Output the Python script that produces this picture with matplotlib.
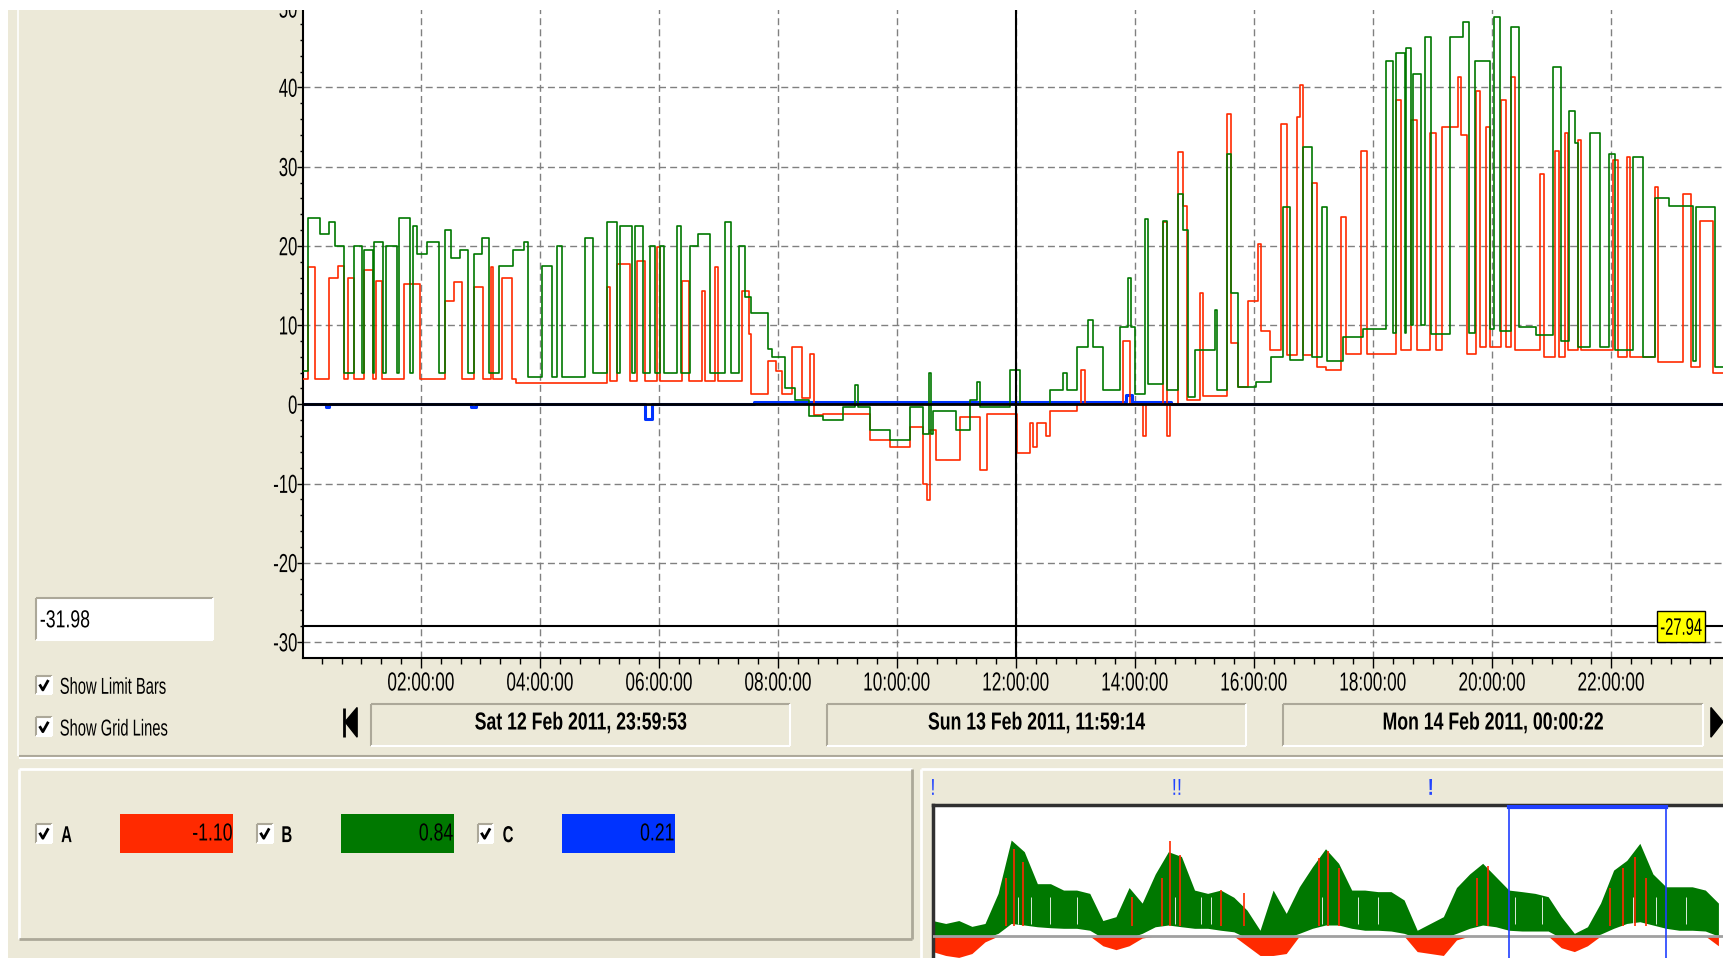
import numpy as np
import matplotlib
matplotlib.use("Agg")
import matplotlib.pyplot as plt
from matplotlib.patches import Rectangle, Polygon, PathPatch
from matplotlib.lines import Line2D
from matplotlib.textpath import TextPath
from matplotlib.font_manager import FontProperties
from matplotlib.transforms import Affine2D, IdentityTransform

# ---- main chart data (hours from Sat 12 Feb 2011 23:59:53), step values ----
a_t = [0.00, 0.11, 0.22, 0.45, 0.60, 0.70, 0.78, 0.87, 1.04, 1.20, 1.24, 1.34, 1.71, 1.99,
       2.41, 2.55, 2.69, 2.89, 3.05, 3.17, 3.22, 3.36, 3.53, 3.59, 5.13, 5.18, 5.29, 5.52,
       5.63, 5.77, 5.97, 6.02, 6.39, 6.50, 6.72, 6.78, 6.95, 7.00, 7.39, 7.51, 7.54, 7.84,
       7.96, 8.07, 8.24, 8.40, 8.54, 8.60,
       8.76, 9.54, 9.88, 10.22, 10.44, 10.50, 10.55, 10.66, 11.06, 11.39, 11.51, 12.01,
       12.23, 12.29, 12.35, 12.51, 12.57, 13.02, 13.10, 13.16, 13.80, 13.91, 14.14, 14.19,
       14.47, 14.53, 14.59, 14.73, 14.81, 14.87, 15.09, 15.15, 15.54, 15.62, 15.73, 15.90,
       16.07, 16.11, 16.27, 16.46, 16.55, 16.72, 16.78, 16.83, 16.97, 17.05, 17.21,
       17.46, 17.55, 17.80, 17.89, 18.39, 18.47, 18.64, 18.73, 18.95, 19.06, 19.15, 19.43,
       19.48, 19.57, 19.73, 19.79, 19.90, 19.96, 20.15, 20.24, 20.32, 20.38, 20.80, 20.88,
       21.05, 21.13, 21.22, 21.27, 21.44, 21.50, 22.03, 22.11, 22.26, 22.31, 22.73, 22.79,
       23.21, 23.35, 23.49, 23.71, 23.90]
a_v = [3.2, 17.3, 3.2, 16, 17.5, 3.2, 16, 3.2, 17, 3.2, 15.6, 3.2, 15.2, 3.2,
       13, 15.5, 3.2, 14.8, 3.2, 17.3, 3.2, 16, 3.2, 2.7, 14.8, 3, 17.7, 3,
       18.1, 3, 19.8, 3, 15.6, 3, 14.3, 3, 17.3, 3, 14.3, 8.9, 1.3, 5.5,
       4.2, 1.3, 7.2, 0.8, 6.3, -1.3,
       -1.2, -4.5, -5.4, -2.9, -10, -12.1, -3.3, -7, -1.6, -8.3, -1.2, -6.2,
       -2.4, -5.4, -2.4, -4, -0.8, 0, 4.3, 0, 8, 0, -4, 0,
       23, -4, 0, 31.9, 25, 0.5, 14, 1, 36.7, 7.7, 2.2, 13,
       20.3, 9.3, 6.8, 35.4, 6.2, 36.3, 40.3, 6.2, 28, 4.7, 4.3,
       23.7, 6.4, 32, 6.4, 38.4, 6.8, 35.9, 6.8, 34.2, 6.8, 35, 41.3,
       34, 6.4, 39.6, 7.2, 35, 7.2, 38.4, 7.2, 41.3, 6.8, 29.1, 6,
       32, 6, 34.2, 6.8, 33.4, 6.8, 30.8, 6, 31.2, 6, 27.4, 5.3,
       26.6, 4.7, 23.2, 3.9, 3.9]

b_t = [0.00, 0.11, 0.30, 0.45, 0.56, 0.70, 0.87, 1.01, 1.05, 1.19, 1.22, 1.37, 1.41, 1.60,
       1.64, 1.82, 1.86, 1.93, 2.10, 2.30, 2.41, 2.50, 2.65, 2.80, 2.89, 3.02, 3.14, 3.31,
       3.55, 3.73, 3.80, 4.03, 4.20, 4.29, 4.37, 4.76, 4.89, 5.13, 5.29, 5.35, 5.55, 5.60,
       5.74, 5.85, 5.94, 6.01, 6.08, 6.30, 6.37, 6.53, 6.65, 6.86, 7.11, 7.21, 7.34, 7.45,
       7.54, 7.84, 7.90, 8.12, 8.29, 8.52,
       8.76, 9.10, 9.30, 9.34, 9.54, 9.88, 10.22, 10.44, 10.54, 10.58, 10.61, 11.00, 11.23,
       11.34, 11.39, 11.90, 12.07, 12.57, 12.79, 12.85, 13.02, 13.21, 13.30, 13.47, 13.75,
       13.89, 13.94, 14.00, 14.17, 14.21, 14.47, 14.53, 14.73, 14.81, 14.89, 15.01, 15.34,
       15.37, 15.54, 15.62, 15.73, 16.04, 16.29, 16.49, 16.60, 16.83, 16.97, 17.14, 17.22,
       17.49, 17.83, 18.22, 18.33, 18.39, 18.53, 18.56, 18.64, 18.67, 18.81, 18.87, 18.98,
       19.29, 19.51, 19.62, 19.71, 19.96, 20.04, 20.13, 20.32, 20.46, 20.74, 21.02, 21.16,
       21.30, 21.39, 21.44, 21.64, 21.81, 21.97, 22.06, 22.37, 22.54, 22.73, 22.98, 23.38,
       23.43, 23.74, 23.90]
b_v = [4.2, 23.5, 21.5, 23, 20, 4, 20, 4, 19.5, 4, 20.5, 4, 20, 4,
       23.5, 4, 22.5, 19, 20.5, 4, 22, 18.5, 19.5, 4, 19, 21, 4, 17.5,
       19.5, 20.5, 3.4, 17.5, 3.4, 20, 3.4, 21, 4, 23, 4, 22.5, 4, 22.5,
       4, 20, 4, 20, 4, 22.5, 4, 20, 21.5, 4, 23, 4, 20, 13.5,
       11.5, 7, 6, 2, 0.5, -1.5,
       -2, -0.3, 2.5, -0.3, -3.3, -4.5, -0.3, -3.7, 4, -3.7, -0.8, -3.3, 0.5,
       2.8, -0.3, 4.3, 0, 1.8, 4, 1.8, 7.2, 10.6, 7.2, 1.8, 9.8,
       16, 9.8, 1.3, 23.4, 2.6, 23.2, 1.8, 26.6, 22, 0.9, 6.8, 11.9,
       1.8, 31.6, 14, 2.2, 2.8, 6, 24.9, 5.6, 32.5, 6, 24.9, 5.5,
       8.5, 9.5, 43.4, 9, 44.3, 9, 45, 10, 41.7, 10, 46.4, 8.9,
       46.4, 48.3, 9, 43.4, 9.5, 48.9, 9.3, 47.6, 9.8, 8.8, 42.6, 8,
       37, 33, 7.2, 34.2, 7.2, 31.6, 6.8, 31.2, 6, 26, 25, 5.5,
       24.9, 4.7, 4.7]

c_t = [0.00, 0.40, 0.45, 2.85, 2.92, 5.77, 5.88, 7.60, 13.85, 13.95, 14.60, 23.90]
c_v = [0.0, -0.4, 0.0, -0.4, 0.0, -1.9, 0.0, 0.35, 1.2, 0.35, 0.0, 0.0]

x_ticks = [2, 4, 6, 8, 10, 12, 14, 16, 18, 20, 22]
x_labels = ['02:00:00', '04:00:00', '06:00:00', '08:00:00', '10:00:00', '12:00:00',
            '14:00:00', '16:00:00', '18:00:00', '20:00:00', '22:00:00']
y_ticks = [-30, -20, -10, 0, 10, 20, 30, 40, 50]
y_labels = ['-30', '-20', '-10', '0', '10', '20', '30', '40', '50']
y_min = -31.98
limit_bar = -27.94
cursor_h = 12.0
dates = ['Sat 12 Feb 2011, 23:59:53', 'Sun 13 Feb 2011, 11:59:14', 'Mon 14 Feb 2011, 00:00:22']
series = ['A', 'B', 'C']
cursor_vals = ['-1.10', '0.84', '0.21']

# ---- overview strip (hours relative to the main window start) ----
m_t = list(range(-88, 34, 2))
m_hi = [8, 6.5, 8, 5, 6.5, 22, 49.5, 43.5, 27, 27, 23.7, 23.7, 22, 8, 10, 25, 17, 32, 43.5, 41,
        23.7, 22, 23.7, 20, 13.4, 3, 23.7, 11.7, 25.4, 35.7, 45, 37.5, 23.7, 23.7, 22.9, 22.9,
        18.6, 3, 6.5, 10, 25, 32, 37.5, 30.6, 23.7, 22.9, 22, 20.3, 10, 1.4, 4.8, 17, 34, 39,
        47.8, 32, 25.4, 25.4, 25.4, 23.7, 17]
m_lo = [-1, -1, -1, -1, -1, 1.4, 6.5, 5.7, 4.8, 4.3, 4, 4, 3, -1, -1, -1, 1.4, 4.8, 5.7, 4.8,
        4, 4, 3, 2.2, -1, -1, -1, -1, 1.4, 4, 5.7, 5.7, 4, 3, 3, 2.6, 1.4, -1, -1, -1, 1.4, 4,
        5.7, 4.8, 3, 2.6, 2.6, 2.6, -1, -1, -1, 1, 4, 6.5, 7.4, 5.7, 4, 3, 3, 2.6, 0]
m_neg = [-8, -10, -11, -9, -3, 0, 0, 0, 0, 0, 0, 0, 0, -5, -7, -5, -1, 0, 0, 0,
         0, 0, 0, 0, -5, -10, -10, -9, 0, 0, 0, 0, 0, 0, 0, 0, 0, -8, -9, -10, -2, 0,
         0, 0, 0, 0, 0, 0, -6, -8, -5, 0, 0, 0, 0, 0, 0, 0, 0, 0, -5]
spk_t = [-76.8, -75.5, -74.2, -57.5, -53.0, -51.8, -50.2, -44.0, -40.5, -29.0, -27.6, -26.0,
         -4.8, -3.2, 15.5, 17.5, 19.2, 21.0]
spk_v = [30, 45, 38, 20, 30, 49, 42, 24, 22, 40, 44, 35, 30, 36, 25, 35, 41, 30]
gap_t = [-75.0, -73.0, -70.0, -66.0, -51.0, -47.0, -45.5, -28.5, -23.0, -20.0, 1.0, 5.0,
         19.0, 22.5, 27.0]
marks = ['!', '!!', '!']

RED = '#ff2a00'
GREEN = '#007800'
BLUE = '#0033ff'
BEIGE = '#ece9d8'
SHADOW = '#aca899'
W, H = 1568.0, 872.0      # layout measured on the 1568x872 copy
PW, PH = 1723.0, 958.0    # output pixels


def fx(x):
    return x / W


def fy(y):
    return 1 - y / H


def frect(x0, y0, x1, y1):
    return [fx(x0), fy(y1), (x1 - x0) / W, (y1 - y0) / H]


fig = plt.figure(figsize=(17.23, 9.58), dpi=100)
fig.patch.set_facecolor('white')


def rect(x0, y0, x1, y1, face, edge='none', lw=1, z=1):
    fig.add_artist(Rectangle((fx(x0), fy(y1)), (x1 - x0) / W, (y1 - y0) / H,
                             transform=fig.transFigure, facecolor=face, edgecolor=edge,
                             linewidth=lw, zorder=z))


def line(xs, ys, color, lw=1, z=2):
    fig.add_artist(Line2D([fx(x) for x in xs], [fy(y) for y in ys], transform=fig.transFigure,
                          color=color, linewidth=lw, zorder=z, solid_capstyle='butt'))


def stext(x, y, s, cap=17, sx=0.68, ha='center', bold=False, color='black', z=6):
    # tall narrow screen font: text outline squeezed sideways, (x, y) in layout coords
    fp = FontProperties(family='Liberation Sans', weight='bold' if bold else 'normal')
    tp = TextPath((0, 0), s, size=1, prop=fp)
    ext = tp.get_extents()
    k = cap * PH / H / 0.716
    px = x * PW / W
    py = PH - y * PH / H
    if ha == 'center':
        x0 = px - (ext.x0 + ext.x1) / 2 * k * sx
    elif ha == 'right':
        x0 = px - ext.x1 * k * sx
    else:
        x0 = px - ext.x0 * k * sx
    tr = Affine2D().scale(k * sx, k).translate(x0, py - 0.358 * k)
    fig.add_artist(PathPatch(tr.transform_path(tp), transform=IdentityTransform(),
                             facecolor=color, edgecolor='none', zorder=z))


def box3d(x0, y0, x1, y1, face, sunken=True, lw=1.5):
    rect(x0, y0, x1, y1, face)
    c1, c2 = (SHADOW, 'white') if sunken else ('white', SHADOW)
    line([x0, x1], [y0, y0], c1, lw)
    line([x0, x0], [y0, y1], c1, lw)
    line([x0, x1], [y1, y1], c2, lw)
    line([x1, x1], [y0, y1], c2, lw)


def checkbox(x, y):
    box3d(x, y, x + 14, y + 17, 'white')
    line([x + 3, x + 6, x + 11], [y + 8, y + 13, y + 4], 'black', 2, 3)


# window background
rect(7.5, 9, W, H, BEIGE, z=-10)
line([16.5, 16.5], [9, 688], 'white', 1.2)

# ---- main chart ----
ax = fig.add_axes(frect(276, 0, W, 598.6))
ax.set_facecolor('white')
ax.step(a_t, a_v, where='post', color=RED, lw=1.2, zorder=3)
ax.step(b_t, b_v, where='post', color=GREEN, lw=1.2, zorder=3)
ax.step(c_t, c_v, where='post', color=BLUE, lw=2.2, zorder=2)
ax.axhline(0, color='black', lw=2, zorder=4)
ax.axhline(limit_bar, color='black', lw=1.5, zorder=4)
ax.axvline(cursor_h, color='black', lw=1.5, zorder=4)

ax.set_xlim(0.024, 23.88)
ax.set_ylim(y_min, 368 / 7.21)
ax.set_xticks(x_ticks)
ax.set_xticks(np.arange(1 / 3, 23.9, 1 / 3), minor=True)
ax.set_yticks(y_ticks)
ax.set_yticks(np.arange(-30, 52, 2), minor=True)
ax.grid(which='major', color='#808080', linestyle=(0, (5, 3)), lw=1)
ax.set_axisbelow(True)
ax.tick_params(axis='x', which='major', length=7, width=1, labelbottom=False)
ax.tick_params(axis='x', which='minor', length=4.5, width=1)
ax.tick_params(axis='y', which='major', length=4, width=1, labelleft=False)
ax.tick_params(axis='y', which='minor', length=2.5, width=1)
for s in ['top', 'right']:
    ax.spines[s].set_visible(False)
for s in ['left', 'bottom']:
    ax.spines[s].set_linewidth(1.5)

# tick labels placed through the axes transform
for t, lab in zip(x_ticks, x_labels):
    px, _ = ax.transData.transform((t, 0))
    stext(px * W / PW, 620, lab, cap=17, sx=0.66)
for v, lab in zip(y_ticks, y_labels):
    _, py = ax.transData.transform((0.024, v))
    stext(270, (PH - py) * H / PH, lab, cap=17, sx=0.64, ha='right')

# yellow limit label
rect(1508, 556, 1552, 584, '#ffff00', edge='black', lw=1, z=5)
stext(1530, 570, '-27.94', cap=15.5, sx=0.62)

# left controls
box3d(33, 544, 194, 583, 'white')
stext(37, 563, '-31.98', cap=16, sx=0.72, ha='left')
checkbox(33, 615)
stext(55, 624, 'Show Limit Bars', cap=15, sx=0.64, ha='left')
checkbox(33, 653)
stext(55, 662, 'Show Grid Lines', cap=15, sx=0.64, ha='left')

# date navigation
fig.add_artist(Polygon([(fx(314), fy(657)), (fx(325), fy(644)), (fx(325), fy(671))],
                       closed=True, transform=fig.transFigure, color='black'))
line([313.5, 313.5], [644, 671], 'black', 2)
fig.add_artist(Polygon([(fx(1568), fy(657)), (fx(1557), fy(644)), (fx(1557), fy(671))],
                       closed=True, transform=fig.transFigure, color='black'))
for (x0, x1), d in zip([(338, 719), (753, 1134), (1168, 1550)], dates):
    box3d(x0, 641, x1, 679, BEIGE)
    stext((x0 + x1) / 2, 656, d, cap=16, sx=0.72, bold=True)

# separator
line([17, W], [688, 688], SHADOW, 1.5)
line([17, W], [690, 690], 'white', 1.5)

# series panel
box3d(17, 700, 830, 855, BEIGE, sunken=False, lw=2)
for i, (name, val, col) in enumerate(zip(series, cursor_vals, [RED, GREEN, BLUE])):
    x = 33 + 201 * i
    checkbox(x, 750)
    stext(x + 23, 759, name, cap=15, sx=0.65, ha='left', bold=True)
    rect(x + 76, 741, x + 179, 776, col)
    stext(x + 178, 757, val, cap=16, sx=0.72, ha='right')

# overview panel
line([838, 838], [700, H], 'white', 2)
line([838, W], [700, 700], 'white', 2)
for x, s in zip([849, 1071, 1302], marks):
    stext(x, 716, s, cap=15, sx=0.8, color='#2244ff', bold=(x == 1302))

mini = fig.add_axes(frect(849, 733, W, H))
mini.set_facecolor('white')
mini.fill_between(m_t, m_lo, m_hi, color=GREEN, lw=0, zorder=2)
mini.fill_between(m_t, m_neg, 0, color=RED, lw=0, zorder=2)
mini.vlines(spk_t, 5, spk_v, color=RED, lw=1.2, zorder=3)
mini.vlines(gap_t, 6, 20, color='white', lw=0.6, zorder=3)
mini.axhline(0, color='#a0a0a0', lw=2, zorder=4)
mini.axvline(0, color='#2040ff', lw=1.2, zorder=5)
mini.axvline(24, color='#2040ff', lw=1.2, zorder=5)
mini.plot([0, 24], [66.6, 66.6], color='#2040ff', lw=3, zorder=5)
mini.set_xlim(-87.95, 32.7)
mini.set_ylim(-11.3, 67.4)
mini.set_xticks([])
mini.set_yticks([])
for s in ['bottom', 'right']:
    mini.spines[s].set_visible(False)
for s in ['top', 'left']:
    mini.spines[s].set_linewidth(2.5)
    mini.spines[s].set_color('#303030')

# white screen margins around the captured window
rect(0, 0, W, 9, 'white', z=10)
rect(0, 0, 7.5, H, 'white', z=10)

fig.savefig('out.png', dpi=100)
